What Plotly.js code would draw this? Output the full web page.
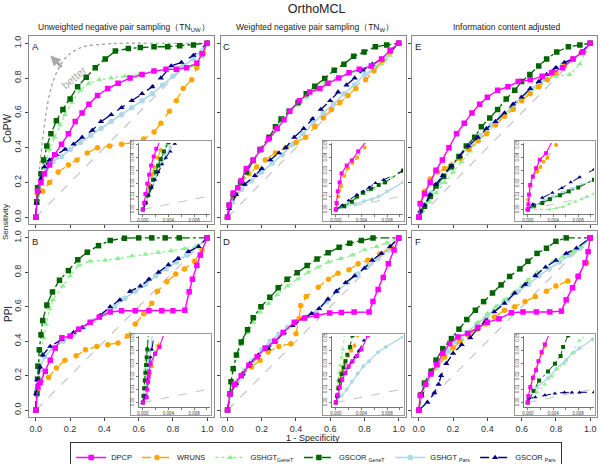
<!DOCTYPE html>
<html><head><meta charset="utf-8">
<script src="https://cdn.plot.ly/plotly-3.0.1.min.js"></script>
<style>html,body{margin:0;padding:0;background:#fff}</style>
</head><body><div id="chart" style="width:600px;height:464px"></div>
<script>
// ---------------- DATA: main panels ----------------
// Panel A (CoPW, unweighted)
const A_DPCP_x = [0,0.01,0.03,0.05,0.08,0.11,0.15,0.19,0.23,0.27,0.31,0.36,0.42,0.48,0.55,0.62,0.69,0.76,0.82,0.88,0.94,0.97,1];
const A_DPCP_y = [0,0.15,0.2,0.25,0.3,0.36,0.42,0.48,0.55,0.6,0.65,0.7,0.74,0.77,0.8,0.82,0.84,0.85,0.85,0.86,0.885,0.94,1];
const A_WRUNS_x = [0,0.01,0.04,0.08,0.13,0.19,0.24,0.3,0.36,0.43,0.5,0.57,0.63,0.69,0.73,0.78,0.82,0.86,0.91,0.94,0.98,1];
const A_WRUNS_y = [0,0.14,0.15,0.2,0.26,0.3,0.33,0.37,0.4,0.41,0.42,0.43,0.45,0.49,0.54,0.61,0.67,0.74,0.79,0.86,0.94,1];
const A_GSHGTg_x = [0,0.01,0.02,0.04,0.06,0.08,0.11,0.14,0.17,0.21,0.26,0.31,0.37,0.44,0.52,0.6,0.68,0.76,0.84,0.91,0.97,1];
const A_GSHGTg_y = [0,0.1,0.17,0.25,0.32,0.39,0.46,0.53,0.59,0.66,0.73,0.77,0.79,0.8,0.81,0.82,0.84,0.85,0.86,0.87,0.92,1];
const A_GSCORg_x = [0,0.005,0.01,0.03,0.045,0.064,0.088,0.12,0.158,0.2,0.244,0.294,0.347,0.405,0.464,0.54,0.61,0.69,0.77,0.84,0.92,1];
const A_GSCORg_y = [0,0.09,0.17,0.25,0.33,0.41,0.48,0.555,0.62,0.68,0.75,0.805,0.86,0.91,0.955,0.97,0.975,0.98,0.98,0.985,0.99,1];
const A_GSHGTp_x = [0,0.01,0.03,0.06,0.1,0.15,0.2,0.26,0.32,0.38,0.44,0.5,0.56,0.62,0.68,0.74,0.8,0.86,0.92,1];
const A_GSHGTp_y = [0,0.13,0.22,0.28,0.32,0.35,0.39,0.43,0.47,0.51,0.55,0.59,0.63,0.67,0.71,0.76,0.81,0.87,0.91,1];
const A_GSCORp_x = [0,0.005,0.015,0.03,0.05,0.08,0.12,0.17,0.22,0.27,0.33,0.38,0.44,0.5,0.56,0.62,0.68,0.73,0.79,0.85,0.92,1];
const A_GSCORp_y = [0,0.08,0.15,0.22,0.29,0.33,0.36,0.39,0.42,0.46,0.5,0.55,0.59,0.63,0.67,0.71,0.75,0.8,0.87,0.89,0.93,1];
// "better" reference curve in panel A
const better_x = [0,0.01,0.02,0.04,0.06,0.08,0.1,0.13,0.16,0.2,0.25,0.3,0.4,0.5,0.7,1];
const better_y = [0,0.15,0.27,0.45,0.6,0.71,0.78,0.85,0.9,0.94,0.97,0.985,0.995,1,1,1];

// Panel B (PPI, unweighted)
const B_DPCP_x = [0,0.012,0.025,0.055,0.084,0.113,0.152,0.2,0.25,0.317,0.37,0.434,0.5,0.58,0.66,0.735,0.8,0.87,0.895,0.914,0.94,0.96,1];
const B_DPCP_y = [0,0.135,0.16,0.225,0.29,0.36,0.42,0.43,0.47,0.51,0.54,0.57,0.577,0.577,0.577,0.577,0.577,0.58,0.687,0.76,0.84,0.9,1];
const B_WRUNS_x = [0,0.012,0.03,0.074,0.12,0.17,0.235,0.29,0.356,0.42,0.48,0.535,0.58,0.63,0.677,0.71,0.765,0.817,0.868,0.926,0.97,1];
const B_WRUNS_y = [0,0.12,0.167,0.19,0.245,0.29,0.315,0.35,0.37,0.38,0.39,0.43,0.5,0.56,0.62,0.69,0.745,0.79,0.82,0.865,0.93,1];
const B_GSHGTg_x = [0,0.006,0.012,0.02,0.03,0.045,0.06,0.08,0.1,0.158,0.2,0.25,0.317,0.405,0.48,0.56,0.64,0.715,0.79,0.868,0.94,1];
const B_GSHGTg_y = [0,0.1,0.18,0.26,0.34,0.42,0.5,0.59,0.64,0.72,0.78,0.84,0.865,0.87,0.88,0.895,0.905,0.915,0.925,0.937,0.95,1];
const B_GSCORg_x = [0,0.006,0.01,0.012,0.02,0.03,0.04,0.064,0.097,0.138,0.19,0.245,0.3,0.366,0.434,0.517,0.6,0.677,0.755,0.837,1];
const B_GSCORg_y = [0,0.096,0.18,0.255,0.35,0.437,0.52,0.61,0.686,0.754,0.81,0.873,0.917,0.955,0.985,0.998,1,1,1,1,1];
const B_GSHGTp_x = [0,0.005,0.02,0.05,0.1,0.16,0.22,0.28,0.34,0.4,0.46,0.52,0.58,0.64,0.7,0.76,0.82,0.88,0.94,1];
const B_GSHGTp_y = [0,0.12,0.23,0.31,0.36,0.4,0.44,0.48,0.52,0.56,0.6,0.65,0.69,0.73,0.78,0.82,0.86,0.9,0.95,1];
const B_GSCORp_x = [0,0.002,0.01,0.025,0.04,0.084,0.15,0.22,0.27,0.317,0.375,0.434,0.49,0.55,0.61,0.66,0.716,0.774,0.83,0.89,0.95,1];
const B_GSCORp_y = [0,0.096,0.177,0.25,0.32,0.37,0.41,0.45,0.48,0.51,0.55,0.6,0.64,0.69,0.72,0.76,0.8,0.844,0.88,0.92,0.95,1];

// Panel C (CoPW, weighted)
const C_DPCP_x = [0,0.01,0.033,0.06,0.08,0.11,0.15,0.195,0.24,0.29,0.33,0.364,0.42,0.48,0.54,0.587,0.65,0.71,0.77,0.84,0.9,0.95,1];
const C_DPCP_y = [0,0.07,0.14,0.17,0.21,0.28,0.33,0.39,0.45,0.51,0.56,0.61,0.67,0.72,0.74,0.77,0.8,0.83,0.85,0.87,0.91,0.96,1];
const C_WRUNS_x = [0,0.01,0.04,0.08,0.125,0.17,0.22,0.28,0.34,0.4,0.457,0.51,0.56,0.607,0.656,0.704,0.75,0.807,0.856,0.905,0.95,1];
const C_WRUNS_y = [0,0.07,0.13,0.2,0.25,0.29,0.33,0.37,0.4,0.43,0.46,0.52,0.57,0.62,0.66,0.7,0.74,0.79,0.84,0.9,0.95,1];
const C_GSHGTg_x = [0,0.01,0.033,0.076,0.11,0.15,0.19,0.243,0.28,0.313,0.36,0.412,0.46,0.51,0.57,0.635,0.695,0.765,0.836,0.9,0.95,1];
const C_GSHGTg_y = [0,0.07,0.13,0.2,0.26,0.32,0.38,0.45,0.51,0.555,0.6,0.645,0.69,0.73,0.77,0.8,0.82,0.84,0.86,0.88,0.93,1];
const C_GSCORg_x = [0,0.01,0.033,0.076,0.11,0.15,0.19,0.243,0.28,0.313,0.36,0.412,0.46,0.51,0.568,0.623,0.68,0.737,0.798,0.864,0.93,1];
const C_GSCORg_y = [0,0.07,0.13,0.2,0.26,0.326,0.39,0.46,0.52,0.565,0.61,0.66,0.71,0.753,0.798,0.845,0.88,0.925,0.95,0.98,0.99,1];
const C_GSHGTp_x = [0,0.03,0.08,0.14,0.2,0.26,0.32,0.38,0.44,0.5,0.56,0.62,0.68,0.74,0.8,0.86,0.92,1];
const C_GSHGTp_y = [0,0.09,0.16,0.21,0.26,0.31,0.36,0.42,0.48,0.54,0.6,0.65,0.71,0.76,0.82,0.86,0.91,1];
const C_GSCORp_x = [0,0.01,0.05,0.1,0.16,0.2,0.25,0.3,0.34,0.39,0.445,0.496,0.545,0.6,0.646,0.695,0.743,0.79,0.846,0.9,0.95,1];
const C_GSCORp_y = [0,0.05,0.13,0.19,0.24,0.28,0.33,0.37,0.4,0.46,0.51,0.565,0.62,0.67,0.72,0.76,0.8,0.845,0.88,0.91,0.95,1];

// Panel D (PPI, weighted)
const D_DPCP_x = [0,0.014,0.04,0.08,0.125,0.173,0.22,0.276,0.325,0.39,0.45,0.52,0.597,0.665,0.74,0.827,0.85,0.88,0.91,0.94,0.973,1];
const D_DPCP_y = [0,0.093,0.15,0.2,0.26,0.31,0.36,0.4,0.45,0.51,0.535,0.55,0.564,0.567,0.57,0.57,0.63,0.7,0.77,0.85,0.93,1];
const D_WRUNS_x = [0,0.017,0.05,0.09,0.14,0.19,0.237,0.3,0.37,0.4,0.418,0.428,0.46,0.53,0.59,0.646,0.71,0.763,0.82,0.89,0.957,1];
const D_WRUNS_y = [0,0.097,0.15,0.21,0.25,0.29,0.338,0.37,0.386,0.444,0.53,0.608,0.66,0.714,0.76,0.795,0.815,0.85,0.87,0.907,0.945,1];
const D_GSHGTg_x = [0,0.01,0.02,0.035,0.055,0.08,0.115,0.15,0.19,0.24,0.29,0.35,0.41,0.47,0.53,0.59,0.66,0.73,0.8,0.87,0.93,1];
const D_GSHGTg_y = [0,0.09,0.16,0.24,0.31,0.38,0.45,0.51,0.57,0.62,0.67,0.72,0.76,0.8,0.83,0.86,0.88,0.9,0.93,0.95,0.97,1];
const D_GSCORg_x = [0,0.014,0.02,0.033,0.052,0.08,0.117,0.15,0.195,0.247,0.296,0.348,0.407,0.465,0.523,0.588,0.652,0.714,0.782,0.85,1];
const D_GSCORg_y = [0,0.093,0.164,0.24,0.32,0.396,0.467,0.537,0.6,0.656,0.71,0.76,0.797,0.84,0.878,0.913,0.946,0.969,0.985,1,1];
const D_GSHGTp_x = [0,0.02,0.06,0.1,0.15,0.2,0.25,0.3,0.35,0.4,0.46,0.52,0.58,0.64,0.7,0.76,0.82,0.88,0.94,1];
const D_GSHGTp_y = [0,0.1,0.17,0.23,0.29,0.35,0.4,0.44,0.48,0.51,0.54,0.57,0.63,0.69,0.74,0.79,0.84,0.88,0.93,1];
const D_GSCORp_x = [0,0.014,0.05,0.088,0.13,0.18,0.237,0.28,0.33,0.38,0.44,0.49,0.535,0.587,0.636,0.69,0.743,0.8,0.846,0.9,0.95,1];
const D_GSCORp_y = [0,0.093,0.155,0.21,0.27,0.32,0.357,0.4,0.45,0.49,0.53,0.56,0.59,0.645,0.69,0.74,0.78,0.824,0.87,0.91,0.95,1];

// Panel E (CoPW, IC adjusted)
const E_DPCP_x = [0,0.008,0.033,0.066,0.1,0.137,0.176,0.22,0.265,0.31,0.355,0.4,0.46,0.52,0.58,0.65,0.72,0.775,0.84,0.9,0.957,1];
const E_DPCP_y = [0,0.078,0.136,0.2,0.27,0.33,0.4,0.48,0.54,0.6,0.65,0.69,0.73,0.75,0.78,0.79,0.81,0.83,0.86,0.91,0.95,1];
const E_WRUNS_x = [0,0.008,0.033,0.066,0.11,0.15,0.19,0.24,0.29,0.345,0.395,0.447,0.5,0.55,0.6,0.65,0.7,0.75,0.8,0.85,0.9,0.95,1];
const E_WRUNS_y = [0,0.083,0.15,0.22,0.26,0.28,0.3,0.34,0.39,0.44,0.48,0.53,0.58,0.62,0.67,0.71,0.75,0.79,0.83,0.87,0.91,0.95,1];
const E_GSHGTg_x = [0,0.02,0.06,0.1,0.15,0.2,0.25,0.3,0.35,0.4,0.45,0.5,0.55,0.6,0.65,0.7,0.75,0.8,0.88,0.94,0.97,1];
const E_GSHGTg_y = [0,0.04,0.09,0.14,0.2,0.26,0.32,0.38,0.44,0.49,0.54,0.59,0.63,0.68,0.72,0.76,0.79,0.81,0.82,0.88,0.95,1];
const E_GSCORg_x = [0,0.033,0.066,0.1,0.145,0.19,0.234,0.277,0.326,0.365,0.414,0.46,0.51,0.56,0.6,0.648,0.7,0.746,0.805,0.873,0.94,1];
const E_GSCORg_y = [0,0.064,0.12,0.18,0.235,0.29,0.35,0.41,0.46,0.52,0.57,0.62,0.68,0.73,0.78,0.82,0.87,0.91,0.95,0.98,0.99,1];
const E_GSHGTp_x = [0,0.03,0.07,0.12,0.18,0.24,0.3,0.36,0.42,0.48,0.54,0.6,0.66,0.72,0.78,0.84,0.9,0.95,1];
const E_GSHGTp_y = [0,0.07,0.14,0.2,0.28,0.35,0.42,0.47,0.53,0.58,0.63,0.69,0.74,0.79,0.84,0.88,0.91,0.95,1];
const E_GSCORp_x = [0,0.008,0.033,0.066,0.1,0.14,0.19,0.24,0.29,0.345,0.395,0.447,0.5,0.55,0.6,0.65,0.7,0.746,0.8,0.85,0.9,0.95,1];
const E_GSCORp_y = [0,0.035,0.07,0.13,0.19,0.24,0.295,0.35,0.41,0.46,0.51,0.55,0.6,0.65,0.69,0.74,0.78,0.82,0.86,0.89,0.91,0.95,1];

// Panel F (PPI, IC adjusted)
const F_DPCP_x = [0,0.008,0.04,0.07,0.105,0.14,0.18,0.228,0.286,0.345,0.4,0.468,0.54,0.608,0.686,0.764,0.832,0.86,0.897,0.93,0.97,0.988,1];
const F_DPCP_y = [0,0.085,0.15,0.21,0.265,0.33,0.386,0.425,0.445,0.48,0.51,0.53,0.565,0.57,0.57,0.57,0.575,0.64,0.71,0.776,0.855,0.92,1];
const F_WRUNS_x = [0,0.008,0.04,0.07,0.11,0.15,0.2,0.24,0.29,0.34,0.39,0.44,0.5,0.56,0.62,0.68,0.745,0.8,0.87,0.93,0.98,0.99,1];
const F_WRUNS_y = [0,0.085,0.15,0.21,0.26,0.31,0.36,0.4,0.435,0.47,0.5,0.54,0.58,0.6,0.63,0.66,0.69,0.72,0.75,0.78,0.855,0.92,1];
const F_GSHGTg_x = [0,0.02,0.05,0.1,0.15,0.2,0.25,0.3,0.345,0.4,0.45,0.5,0.55,0.6,0.637,0.69,0.74,0.78,0.84,0.9,0.95,1];
const F_GSHGTg_y = [0,0.08,0.15,0.24,0.3,0.36,0.41,0.46,0.51,0.56,0.6,0.64,0.68,0.72,0.756,0.8,0.83,0.86,0.89,0.92,0.95,1];
const F_GSCORg_x = [0,0.014,0.033,0.072,0.1,0.14,0.19,0.234,0.28,0.33,0.378,0.43,0.48,0.53,0.59,0.637,0.69,0.745,0.8,0.86,1];
const F_GSCORg_y = [0,0.09,0.156,0.226,0.29,0.357,0.415,0.47,0.526,0.58,0.63,0.68,0.727,0.776,0.82,0.864,0.91,0.94,0.98,1,1];
const F_GSHGTp_x = [0,0.03,0.07,0.12,0.17,0.22,0.28,0.34,0.4,0.46,0.52,0.58,0.64,0.7,0.76,0.82,0.88,0.94,1];
const F_GSHGTp_y = [0,0.16,0.22,0.28,0.34,0.4,0.45,0.5,0.55,0.6,0.64,0.69,0.73,0.78,0.82,0.86,0.9,0.94,1];
const F_GSCORp_x = [0,0.05,0.09,0.115,0.13,0.16,0.2,0.25,0.3,0.34,0.39,0.44,0.5,0.56,0.62,0.68,0.74,0.8,0.86,0.92,1];
const F_GSCORp_y = [0,0.045,0.1,0.15,0.2,0.27,0.33,0.38,0.42,0.47,0.52,0.57,0.62,0.68,0.73,0.78,0.83,0.87,0.91,0.94,1];

// ---------------- DATA: insets (low 1-specificity range) ----------------
const iA_DPCP_x = [0,0.0002,0.0004,0.0007,0.001,0.0013,0.0017,0.0021,0.0028];
const iA_DPCP_y = [0,0.005,0.012,0.02,0.027,0.034,0.041,0.047,0.055];
const iA_WRUNS_x = [0,0.0003,0.0006,0.001,0.0014,0.0018,0.0023,0.0028,0.0035];
const iA_WRUNS_y = [0,0.006,0.012,0.02,0.027,0.033,0.04,0.046,0.053];
const iA_GSHGTg_x = [0,0.0004,0.0008,0.0012,0.0016,0.0021,0.0026,0.0031,0.0037];
const iA_GSHGTg_y = [0,0.006,0.012,0.018,0.025,0.031,0.038,0.044,0.05];
const iA_GSCORg_x = [0,0.0004,0.0008,0.0012,0.0016,0.002,0.0024,0.0028,0.0033,0.004];
const iA_GSCORg_y = [0,0.005,0.011,0.017,0.023,0.029,0.034,0.039,0.045,0.052];
const iA_GSHGTp_x = [0,0.0005,0.0009,0.0014,0.0019,0.0024,0.003,0.0036,0.0043];
const iA_GSHGTp_y = [0,0.006,0.012,0.018,0.024,0.03,0.036,0.042,0.048];
const iA_GSCORp_x = [0,0.0005,0.0009,0.0014,0.0019,0.0024,0.003,0.0036,0.0043,0.005];
const iA_GSCORp_y = [0,0.005,0.011,0.017,0.023,0.029,0.035,0.04,0.045,0.051];

const iB_DPCP_x = [0,0.0006,0.0007,0.0008,0.0009,0.001,0.0012,0.0019,0.0026,0.0033];
const iB_DPCP_y = [0,0.004,0.01,0.016,0.02,0.024,0.03,0.0376,0.043,0.053];
const iB_WRUNS_x = [0,0.0005,0.0007,0.0009,0.0011,0.0014,0.002,0.0024,0.003];
const iB_WRUNS_y = [0,0.005,0.01,0.016,0.022,0.028,0.039,0.044,0.053];
const iB_GSHGTg_x = [0,0.0001,0.0002,0.0003,0.0004,0.0005,0.0006,0.0008];
const iB_GSHGTg_y = [0,0.006,0.012,0.019,0.026,0.033,0.042,0.053];
const iB_GSCORg_x = [0,0.0001,0.0002,0.0003,0.0004,0.0005,0.0006,0.0007,0.0009];
const iB_GSCORg_y = [0,0.005,0.011,0.017,0.023,0.029,0.035,0.041,0.053];
const iB_GSHGTp_x = [0,0.0003,0.0005,0.0007,0.0009,0.001,0.0012,0.0015];
const iB_GSHGTp_y = [0,0.006,0.012,0.018,0.025,0.032,0.04,0.053];
const iB_GSCORp_x = [0,0.0004,0.0006,0.0008,0.0009,0.001,0.0012,0.0014,0.0018];
const iB_GSCORp_y = [0,0.005,0.011,0.017,0.023,0.029,0.035,0.041,0.053];

const iC_DPCP_x = [0,0.0001,0.0003,0.0006,0.0009,0.0017,0.0025,0.0035,0.0048];
const iC_DPCP_y = [0,0.005,0.014,0.021,0.028,0.034,0.038,0.045,0.053];
const iC_WRUNS_x = [0,0.0002,0.0004,0.0008,0.0013,0.0019,0.0026,0.0033,0.0045];
const iC_WRUNS_y = [0,0.004,0.01,0.018,0.026,0.032,0.036,0.04,0.048];
const iC_GSHGTg_x = [0,0.0015,0.003,0.0045,0.006,0.0075,0.0088,0.0105];
const iC_GSHGTg_y = [0,0.004,0.008,0.012,0.016,0.021,0.025,0.031];
const iC_GSCORg_x = [0,0.0013,0.0025,0.0033,0.0042,0.0055,0.0067,0.0077,0.0105];
const iC_GSCORg_y = [0,0.0026,0.006,0.01,0.013,0.016,0.019,0.021,0.03];
const iC_GSHGTp_x = [0,0.0015,0.003,0.0044,0.0056,0.0067,0.008,0.0105];
const iC_GSHGTp_y = [0,0.002,0.004,0.0064,0.008,0.01,0.014,0.021];
const iC_GSCORp_x = [0,0.001,0.002,0.0033,0.0043,0.0052,0.0062,0.0075,0.0105];
const iC_GSCORp_y = [0,0.0033,0.007,0.0115,0.014,0.017,0.0205,0.023,0.03];

const iD_DPCP_x = [0,0.0003,0.0006,0.001,0.0015,0.002,0.0026,0.0033,0.004,0.005];
const iD_DPCP_y = [0,0.006,0.012,0.018,0.023,0.028,0.032,0.036,0.041,0.052];
const iD_WRUNS_x = [0,0.0002,0.0004,0.0007,0.001,0.0014,0.0019,0.0024,0.0029,0.0034];
const iD_WRUNS_y = [0,0.006,0.012,0.018,0.024,0.03,0.036,0.04,0.044,0.052];
const iD_GSHGTg_x = [0,0.0001,0.0002,0.0003,0.0005,0.0007,0.0009,0.0011,0.0014];
const iD_GSHGTg_y = [0,0.005,0.011,0.017,0.023,0.029,0.035,0.041,0.052];
const iD_GSCORg_x = [0,0.0002,0.0004,0.0006,0.0009,0.0012,0.0015,0.0018,0.0022,0.0026];
const iD_GSCORg_y = [0,0.005,0.011,0.017,0.022,0.027,0.032,0.037,0.043,0.052];
const iD_GSHGTp_x = [0,0.0008,0.0017,0.0025,0.0034,0.0043,0.0052,0.0066,0.0078,0.0105];
const iD_GSHGTp_y = [0,0.005,0.01,0.016,0.0225,0.028,0.032,0.039,0.043,0.051];
const iD_GSCORp_x = [0,0.0003,0.0006,0.001,0.0014,0.0019,0.0024,0.003,0.0036,0.0044];
const iD_GSCORp_y = [0,0.005,0.011,0.017,0.022,0.027,0.031,0.035,0.04,0.048];

const iE_DPCP_x = [0,0.0001,0.0002,0.0004,0.0008,0.0013,0.0019,0.0029,0.004];
const iE_DPCP_y = [0,0.004,0.0115,0.019,0.0256,0.032,0.0385,0.0436,0.054];
const iE_WRUNS_x = [0,0.00005,0.0003,0.0008,0.0015,0.002,0.0025,0.0031,0.0045];
const iE_WRUNS_y = [0,0.0077,0.018,0.025,0.0295,0.033,0.037,0.04,0.05];
const iE_GSHGTg_x = [0,0.0035,0.0045,0.0055,0.0065,0.0075,0.0085,0.0094,0.0105];
const iE_GSHGTg_y = [0,0.0,0.001,0.002,0.004,0.006,0.008,0.01,0.012];
const iE_GSCORg_x = [0,0.001,0.0023,0.0035,0.0051,0.0065,0.008,0.0105];
const iE_GSCORg_y = [0,0.003,0.005,0.008,0.011,0.014,0.017,0.023];
const iE_GSHGTp_x = [0,0.001,0.0025,0.004,0.0055,0.007,0.0085,0.0105];
const iE_GSHGTp_y = [0,0.003,0.007,0.01,0.013,0.016,0.019,0.023];
const iE_GSCORp_x = [0,0.0008,0.0023,0.0039,0.0054,0.0068,0.0082,0.0105];
const iE_GSCORp_y = [0,0.004,0.009,0.013,0.0167,0.021,0.025,0.031];

const iF_DPCP_x = [0,0.0001,0.0004,0.0008,0.0013,0.0017,0.0022,0.0027,0.0035];
const iF_DPCP_y = [0,0.005,0.012,0.019,0.025,0.032,0.039,0.045,0.054];
const iF_WRUNS_x = [0,0.0001,0.0004,0.0009,0.0013,0.0017,0.0022,0.0028,0.0036];
const iF_WRUNS_y = [0,0.004,0.011,0.02,0.026,0.032,0.038,0.044,0.053];
const iF_GSHGTg_x = [0,0.0015,0.0027,0.0038,0.0047,0.0058,0.007,0.0082,0.0095];
const iF_GSHGTg_y = [0,0.008,0.014,0.02,0.026,0.03,0.038,0.048,0.053];
const iF_GSCORg_x = [0,0.0009,0.0018,0.0032,0.0043,0.0052,0.0056,0.0064];
const iF_GSCORg_y = [0,0.009,0.017,0.024,0.03,0.036,0.043,0.052];
const iF_GSHGTp_x = [0,0.0003,0.0015,0.0032,0.0045,0.0061,0.0073,0.0082,0.0103];
const iF_GSHGTp_y = [0,0.004,0.012,0.019,0.026,0.033,0.039,0.042,0.049];
const iF_GSCORp_x = [0,0.0001,0.0012,0.0027,0.0043,0.0058,0.007,0.0082,0.0105];
const iF_GSCORp_y = [0,0.003,0.004,0.0056,0.007,0.0078,0.0078,0.0078,0.0079];

// reference diagonals
const diag_main = [0,1];
const diag_inset = [0,0.0105];

// ticks and labels
const mainTicks = [0,0.2,0.4,0.6,0.8,1];
const mainTickText = ['0.0','0.2','0.4','0.6','0.8','1.0'];
const insetXTicks = [0,0.002,0.004,0.006,0.008,0.01];
const insetXText = ['0.000',' ','0.004',' ','0.008',' '];
const insetYTicks = [0,0.01,0.02,0.03,0.04,0.05];
const insetYText = ['0.00','0.01','0.02','0.03','0.04','0.05'];

const seriesKeys = ['DPCP','WRUNS','GSHGTg','GSCORg','GSHGTp','GSCORp'];
const legendLabels = ['DPCP','WRUNS','GSHGT<sub>GeneT</sub>','GSCOR <sub>GeneT</sub>','GSHGT <sub>Pars</sub>','GSCOR <sub>Pars</sub>'];
const panelLetters = ['A','C','E','B','D','F'];
const mainTitle = 'OrthoMCL';
const colTitles = ['Unweighted negative pair sampling（TN<sub>UW</sub>）','Weighted negative pair sampling（TN<sub>W</sub>）','Information content adjusted'];
const rowTitles = ['CoPW','PPI'];

// ---------------- STYLE ----------------
const styles = {
  DPCP:   {color:'#FF00FF', dash:'solid',   symbol:'square',      lw:1.4},
  WRUNS:  {color:'#FFA500', dash:'dash',    symbol:'circle',      lw:1.3},
  GSHGTg: {color:'#90EE90', dash:'dot',     symbol:'triangle-up', lw:1.3},
  GSCORg: {color:'#006400', dash:'dashdot', symbol:'square',      lw:1.3},
  GSHGTp: {color:'#ADD8E6', dash:'solid',   symbol:'circle',      lw:1.6},
  GSCORp: {color:'#000080', dash:'dash',    symbol:'triangle-up', lw:1.3}
};
const drawOrder = ['GSHGTp','GSHGTg','WRUNS','GSCORg','GSCORp','DPCP'];

const W = 600, H = 464;
const fx = p => p / W;
const fy = p => 1 - p / H;
const colX = [[29,214],[220.7,405.5],[412,597]];
const rowY = [[36.3,224.3],[231,417]];
const inOuterX = [[131,211],[323,404],[515,595]];
const inInnerX = [[139,210],[332,403],[524,594]];
const inOuterY = [[141,221],[334,415]];
const inInnerY = [[143,214],[336,407]];
const FONT = 'Liberation Sans, Arial, sans-serif';

const dataSrc = {
  A: {DPCP:[A_DPCP_x,A_DPCP_y],WRUNS:[A_WRUNS_x,A_WRUNS_y],GSHGTg:[A_GSHGTg_x,A_GSHGTg_y],GSCORg:[A_GSCORg_x,A_GSCORg_y],GSHGTp:[A_GSHGTp_x,A_GSHGTp_y],GSCORp:[A_GSCORp_x,A_GSCORp_y]},
  B: {DPCP:[B_DPCP_x,B_DPCP_y],WRUNS:[B_WRUNS_x,B_WRUNS_y],GSHGTg:[B_GSHGTg_x,B_GSHGTg_y],GSCORg:[B_GSCORg_x,B_GSCORg_y],GSHGTp:[B_GSHGTp_x,B_GSHGTp_y],GSCORp:[B_GSCORp_x,B_GSCORp_y]},
  C: {DPCP:[C_DPCP_x,C_DPCP_y],WRUNS:[C_WRUNS_x,C_WRUNS_y],GSHGTg:[C_GSHGTg_x,C_GSHGTg_y],GSCORg:[C_GSCORg_x,C_GSCORg_y],GSHGTp:[C_GSHGTp_x,C_GSHGTp_y],GSCORp:[C_GSCORp_x,C_GSCORp_y]},
  D: {DPCP:[D_DPCP_x,D_DPCP_y],WRUNS:[D_WRUNS_x,D_WRUNS_y],GSHGTg:[D_GSHGTg_x,D_GSHGTg_y],GSCORg:[D_GSCORg_x,D_GSCORg_y],GSHGTp:[D_GSHGTp_x,D_GSHGTp_y],GSCORp:[D_GSCORp_x,D_GSCORp_y]},
  E: {DPCP:[E_DPCP_x,E_DPCP_y],WRUNS:[E_WRUNS_x,E_WRUNS_y],GSHGTg:[E_GSHGTg_x,E_GSHGTg_y],GSCORg:[E_GSCORg_x,E_GSCORg_y],GSHGTp:[E_GSHGTp_x,E_GSHGTp_y],GSCORp:[E_GSCORp_x,E_GSCORp_y]},
  F: {DPCP:[F_DPCP_x,F_DPCP_y],WRUNS:[F_WRUNS_x,F_WRUNS_y],GSHGTg:[F_GSHGTg_x,F_GSHGTg_y],GSCORg:[F_GSCORg_x,F_GSCORg_y],GSHGTp:[F_GSHGTp_x,F_GSHGTp_y],GSCORp:[F_GSCORp_x,F_GSCORp_y]}
};
const insetSrc = {
  A: {DPCP:[iA_DPCP_x,iA_DPCP_y],WRUNS:[iA_WRUNS_x,iA_WRUNS_y],GSHGTg:[iA_GSHGTg_x,iA_GSHGTg_y],GSCORg:[iA_GSCORg_x,iA_GSCORg_y],GSHGTp:[iA_GSHGTp_x,iA_GSHGTp_y],GSCORp:[iA_GSCORp_x,iA_GSCORp_y]},
  B: {DPCP:[iB_DPCP_x,iB_DPCP_y],WRUNS:[iB_WRUNS_x,iB_WRUNS_y],GSHGTg:[iB_GSHGTg_x,iB_GSHGTg_y],GSCORg:[iB_GSCORg_x,iB_GSCORg_y],GSHGTp:[iB_GSHGTp_x,iB_GSHGTp_y],GSCORp:[iB_GSCORp_x,iB_GSCORp_y]},
  C: {DPCP:[iC_DPCP_x,iC_DPCP_y],WRUNS:[iC_WRUNS_x,iC_WRUNS_y],GSHGTg:[iC_GSHGTg_x,iC_GSHGTg_y],GSCORg:[iC_GSCORg_x,iC_GSCORg_y],GSHGTp:[iC_GSHGTp_x,iC_GSHGTp_y],GSCORp:[iC_GSCORp_x,iC_GSCORp_y]},
  D: {DPCP:[iD_DPCP_x,iD_DPCP_y],WRUNS:[iD_WRUNS_x,iD_WRUNS_y],GSHGTg:[iD_GSHGTg_x,iD_GSHGTg_y],GSCORg:[iD_GSCORg_x,iD_GSCORg_y],GSHGTp:[iD_GSHGTp_x,iD_GSHGTp_y],GSCORp:[iD_GSCORp_x,iD_GSCORp_y]},
  E: {DPCP:[iE_DPCP_x,iE_DPCP_y],WRUNS:[iE_WRUNS_x,iE_WRUNS_y],GSHGTg:[iE_GSHGTg_x,iE_GSHGTg_y],GSCORg:[iE_GSCORg_x,iE_GSCORg_y],GSHGTp:[iE_GSHGTp_x,iE_GSHGTp_y],GSCORp:[iE_GSCORp_x,iE_GSCORp_y]},
  F: {DPCP:[iF_DPCP_x,iF_DPCP_y],WRUNS:[iF_WRUNS_x,iF_WRUNS_y],GSHGTg:[iF_GSHGTg_x,iF_GSHGTg_y],GSCORg:[iF_GSCORg_x,iF_GSCORg_y],GSHGTp:[iF_GSHGTp_x,iF_GSHGTp_y],GSCORp:[iF_GSCORp_x,iF_GSCORp_y]}
};

const traces = [];
const layout = {
  width: W, height: H, margin:{l:0,r:0,t:0,b:0,pad:0,autoexpand:false},
  paper_bgcolor:'#fff', plot_bgcolor:'#fff',
  font:{family:FONT, color:'#222'},
  title:{text:mainTitle, x:fx(316.7), xanchor:'center', xref:'paper', y:fy(8.5), yref:'container', yanchor:'middle',
         font:{size:12.5, color:'#222', family:FONT}, pad:{t:0,b:0,l:0,r:0}},
  showlegend:true,
  legend:{orientation:'h', x:0.527, xanchor:'center', y:fy(442), yanchor:'top',
          bordercolor:'#333', borderwidth:1, bgcolor:'#fff', font:{size:7.5, family:FONT, color:'#222'},
          itemwidth:30, tracegroupgap:0, traceorder:'normal'},
  annotations:[], shapes:[]
};
const axKey = (p, n) => p + 'axis' + (n === 1 ? '' : n);
const axRef = (p, n) => p + (n === 1 ? '' : n);

// main panels: ids 1..6 (row-major A,C,E,B,D,F)
panelLetters.forEach((L, i) => {
  const n = i + 1, col = i % 3, row = Math.floor(i / 3);
  const xr = axRef('x', n), yr = axRef('y', n);
  layout[axKey('x', n)] = {
    domain:[fx(colX[col][0]), fx(colX[col][1])], anchor: yr, range:[-0.04,1.04],
    showline:true, mirror:true, linecolor:'#8a8a8a', linewidth:1,
    ticks:'outside', ticklen:3, tickcolor:'#444', tickwidth:1,
    tickvals: mainTicks, ticktext: mainTickText, showticklabels: row === 1,
    tickfont:{size:9, color:'#333'}, showgrid:false, zeroline:false, fixedrange:true
  };
  layout[axKey('y', n)] = {
    domain:[fy(rowY[row][1]), fy(rowY[row][0])], anchor: xr, range:[-0.04,1.04],
    showline:true, mirror:true, linecolor:'#8a8a8a', linewidth:1,
    ticks:'outside', ticklen:3, tickcolor:'#444', tickwidth:1,
    tickvals: mainTicks, ticktext: mainTickText, showticklabels: col === 0, tickangle:-90,
    tickfont:{size:9, color:'#333'}, showgrid:false, zeroline:false, fixedrange:true
  };
  traces.push({x:diag_main, y:diag_main, xaxis:xr, yaxis:yr, mode:'lines', showlegend:false, hoverinfo:'skip',
    line:{color:'#c4c4c4', width:1.2, dash:'dash'}});
  if (L === 'A') {
    traces.push({x:better_x, y:better_y, xaxis:xr, yaxis:yr, mode:'lines', showlegend:false, hoverinfo:'skip',
      line:{color:'#9a9a9a', width:1.2, dash:'dot', shape:'spline'}});
  }
  drawOrder.forEach(k => {
    const s = styles[k], d = dataSrc[L][k];
    traces.push({x:d[0], y:d[1], xaxis:xr, yaxis:yr, mode:'lines+markers', name:legendLabels[seriesKeys.indexOf(k)],
      legendgroup:k, legendrank: seriesKeys.indexOf(k) + 1, showlegend: L === 'A',
      line:{color:s.color, width:s.lw, dash:s.dash},
      marker:{color:s.color, symbol:s.symbol, size:5.5, line:{width:0}}});
  });
  layout.annotations.push({xref:'paper', yref:'paper', x:fx(colX[col][0] + 6), y:fy(rowY[row][0] + 10),
    text:L, showarrow:false, xanchor:'center', yanchor:'middle', font:{size:9.5, color:'#222'}});
});

// inset background boxes: ids 7..12 ; insets: ids 13..18
panelLetters.forEach((L, i) => {
  const col = i % 3, row = Math.floor(i / 3);
  const n = i + 7;
  layout[axKey('x', n)] = {domain:[fx(inOuterX[col][0]), fx(inOuterX[col][1])], anchor:axRef('y', n), range:[0,1],
    showline:true, mirror:true, linecolor:'#9a9a9a', linewidth:1, ticks:'', showticklabels:false, showgrid:false, zeroline:false, fixedrange:true};
  layout[axKey('y', n)] = {domain:[fy(inOuterY[row][1]), fy(inOuterY[row][0])], anchor:axRef('x', n), range:[0,1],
    showline:true, mirror:true, linecolor:'#9a9a9a', linewidth:1, ticks:'', showticklabels:false, showgrid:false, zeroline:false, fixedrange:true};
  traces.push({x:[], y:[], xaxis:axRef('x', n), yaxis:axRef('y', n), mode:'markers', showlegend:false, hoverinfo:'skip'});
});
panelLetters.forEach((L, i) => {
  const col = i % 3, row = Math.floor(i / 3);
  const n = i + 13, xr = axRef('x', n), yr = axRef('y', n);
  layout[axKey('x', n)] = {domain:[fx(inInnerX[col][0]), fx(inInnerX[col][1])], anchor:yr, range:[-0.0006,0.0105],
    showline:true, linecolor:'#555', linewidth:0.8, ticks:'outside', ticklen:2, tickwidth:0.8, tickcolor:'#555',
    tickvals:insetXTicks, ticktext:insetXText, tickfont:{size:4.5, color:'#444'},
    showgrid:false, zeroline:false, fixedrange:true};
  layout[axKey('y', n)] = {domain:[fy(inInnerY[row][1]), fy(inInnerY[row][0])], anchor:xr, range:[-0.0035,0.0515],
    showline:true, linecolor:'#555', linewidth:0.8, ticks:'outside', ticklen:2, tickwidth:0.8, tickcolor:'#555',
    tickvals:insetYTicks, ticktext:insetYText, tickangle:-90, tickfont:{size:4.5, color:'#444'},
    showgrid:false, zeroline:false, fixedrange:true};
  traces.push({x:diag_inset, y:diag_inset, xaxis:xr, yaxis:yr, mode:'lines', showlegend:false, hoverinfo:'skip',
    line:{color:'#c4c4c4', width:1, dash:'dash'}});
  drawOrder.forEach(k => {
    const s = styles[k], d = insetSrc[L][k];
    traces.push({x:d[0], y:d[1], xaxis:xr, yaxis:yr, mode:'lines+markers', showlegend:false, legendgroup:k,
      line:{color:s.color, width:Math.max(1, s.lw - 0.3), dash:s.dash},
      marker:{color:s.color, symbol:s.symbol, size:4, line:{width:0}}});
  });
});

// titles and labels
colTitles.forEach((t, c) => {
  layout.annotations.push({xref:'paper', yref:'paper', x:fx((colX[c][0] + colX[c][1]) / 2 + 2), y:fy(27), text:t, showarrow:false,
    xanchor:'center', yanchor:'middle', font:{size:8.5, color:'#222'}});
});
rowTitles.forEach((t, r) => {
  layout.annotations.push({xref:'paper', yref:'paper', x:fx(8), y:fy(r === 0 ? 129 : 314), text:t, showarrow:false,
    textangle:-90, xanchor:'center', yanchor:'middle', font:{size:10, color:'#222'}});
});
layout.annotations.push({xref:'paper', yref:'paper', x:fx(5), y:fy(222), text:'Sensitivity', showarrow:false,
  textangle:-90, xanchor:'center', yanchor:'middle', font:{size:8, color:'#222'}});
layout.annotations.push({xref:'paper', yref:'paper', x:fx(313), y:fy(438), text:'1 - Specificity', showarrow:false,
  xanchor:'center', yanchor:'middle', font:{size:9, color:'#222'}});
layout.annotations.push({xref:'x', yref:'y', x:0.22, y:0.8, text:'better', showarrow:false, textangle:-40,
  font:{size:11, color:'#aaaaaa'}});
layout.annotations.push({xref:'x', yref:'y', x:0.084, y:0.93, ax:13, ay:13, text:'', showarrow:true,
  arrowhead:2, arrowsize:0.7, arrowwidth:3, arrowcolor:'#aaaaaa', standoff:0});

Plotly.newPlot('chart', traces, layout, {staticPlot:true, displayModeBar:false});
</script></body></html>
